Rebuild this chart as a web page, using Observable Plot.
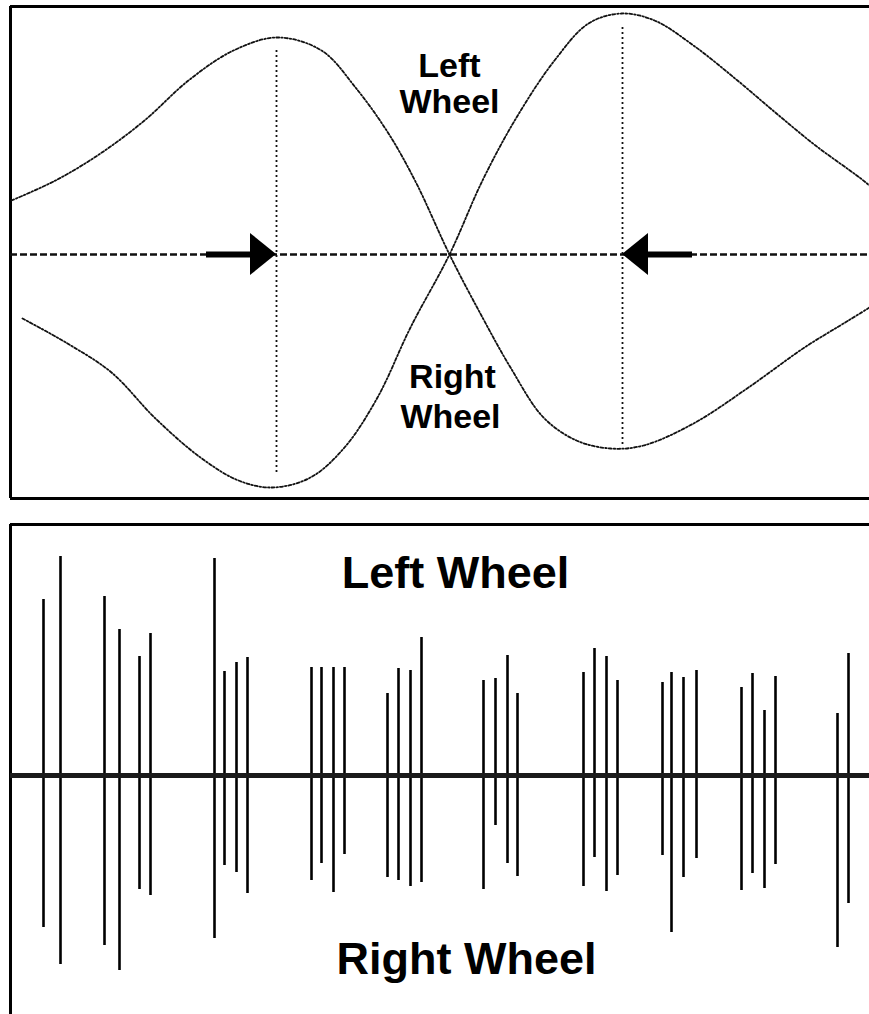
<!DOCTYPE html>
<html><head><meta charset="utf-8">
<script src="https://cdn.jsdelivr.net/npm/d3@7"></script>
<script src="https://cdn.jsdelivr.net/npm/@observablehq/plot@0.6"></script>
<style>
html,body{margin:0;padding:0;background:#fff;}
svg{display:block;}
</style></head><body><div id="top"></div><div id="bottom"></div>
<script>
// ---- Top panel: two wheel signals (position vs amplitude about the centre line)
const waveAPos = [1,45,90,134,178,223,267,311,345,378,406,439,472,500,533,566,600,633,683,738,794,838,859];
const waveAAmp = [54,74,101,134,174,204,217,204,167,121,71,0,-63,-113,-163,-186,-194,-191,-169,-133,-93,-66,-53];
const waveBPos = [12,57,101,145,190,228,262,300,334,367,400,439,472,506,544,578,611,644,683,727,766,805,849,859];
const waveBAmp = [-64,-89,-118,-164,-203,-226,-233,-223,-193,-143,-73,0,74,137,194,231,241,234,209,174,141,109,77,69];
// peak markers (vertical dotted guides) and arrow tips
const guidePos = [266, 612];
const guideTop = [204, 227];
const guideBottom = [-219, -193];
const arrowDir = [1, -1];

// ---- Bottom panel: spike train (position, upward amplitude, downward amplitude)
const spikePos  = [33,50,94,109,129,140,204,214,226,237,301,311,323,334,377,388,400,411,473,485,497,507,573,584,596,607,652,661,673,686,731,742,754,765,827,838];
const spikeUp   = [176,219,179,146,119,142,217,104,113,118,108,108,108,108,82,107,105,138,95,97,120,82,103,127,119,95,93,103,98,105,88,102,65,99,62,122];
const spikeDown = [152,189,170,195,114,120,163,90,97,118,105,88,117,79,102,105,111,107,114,50,88,101,111,82,116,100,80,157,102,83,115,98,113,89,172,128];

const topLabels = ["Left", "Wheel", "Right", "Wheel"];
const bottomLabels = ["Left Wheel", "Right Wheel"];

const waveA = waveAPos.map((p, i) => ({pos: p, amp: waveAAmp[i]}));
const waveB = waveBPos.map((p, i) => ({pos: p, amp: waveBAmp[i]}));
const guides = guidePos.map((p, i) => ({pos: p, top: guideTop[i], bottom: guideBottom[i], dir: arrowDir[i]}));
const spikes = spikePos.map((p, i) => ({pos: p, up: spikeUp[i], down: -spikeDown[i]}));

const HEAD_LEN = 26, HEAD_HALF = 21, SHAFT_LEN = 48;
const heads = [];
guides.forEach((g, i) => {
  heads.push({id: i, x: g.pos - g.dir * HEAD_LEN, y1: -HEAD_HALF, y2: HEAD_HALF});
  heads.push({id: i, x: g.pos, y1: 0, y2: 0});
});

const font = "Liberation Sans, Arial, Helvetica, sans-serif";

const topChart = Plot.plot({
  width: 869, height: 500,
  marginLeft: 10, marginRight: 0, marginTop: 6, marginBottom: 2,
  x: {domain: [0, 859], axis: null},
  y: {domain: [-244, 248], axis: null},
  style: {fontFamily: font, background: "#fff"},
  marks: [
    Plot.ruleX([0], {stroke: "#000", strokeWidth: 3}),
    Plot.ruleY([248, -244], {stroke: "#000", strokeWidth: 3}),
    Plot.ruleY([0], {stroke: "#111", strokeWidth: 2.5, strokeDasharray: "7,3"}),
    Plot.ruleX(guides, {x: "pos", y1: "top", y2: "bottom", stroke: "#111", strokeWidth: 1.8, strokeDasharray: "2,3"}),
    Plot.line(waveA, {x: "pos", y: "amp", curve: "catmull-rom", stroke: "#111", strokeWidth: 1.8, strokeDasharray: "3,2,1.5,2"}),
    Plot.line(waveB, {x: "pos", y: "amp", curve: "catmull-rom", stroke: "#111", strokeWidth: 1.8, strokeDasharray: "3,2,1.5,2"}),
    Plot.ruleY(guides, {y: () => 0, x1: d => d.pos - d.dir * (HEAD_LEN + SHAFT_LEN - 4), x2: d => d.pos - d.dir * (HEAD_LEN - 2), stroke: "#000", strokeWidth: 6}),
    Plot.area(heads, {x1: "x", y1: "y1", y2: "y2", z: "id", fill: "#000"}),
    Plot.text(topLabels, {
      x: [439, 439, 442, 440],
      y: [188, 152, -123, -163],
      text: d => d,
      fontSize: 34, fontWeight: "bold", fill: "#000", textAnchor: "middle"
    })
  ]
});

const bottomChart = Plot.plot({
  width: 869, height: 514,
  marginLeft: 10, marginRight: 0, marginTop: 24, marginBottom: 0,
  x: {domain: [0, 859], axis: null},
  y: {domain: [-239, 251], axis: null},
  style: {fontFamily: font, background: "#fff"},
  marks: [
    Plot.ruleX([0], {stroke: "#000", strokeWidth: 3}),
    Plot.ruleY([251], {stroke: "#000", strokeWidth: 3}),
    Plot.ruleX(spikes, {x: "pos", y1: "down", y2: "up", stroke: "#000", strokeWidth: 2.6}),
    Plot.ruleY([0], {stroke: "#1a1a1a", strokeWidth: 5}),
    Plot.text(bottomLabels, {
      x: [445, 456],
      y: [202, -184],
      text: d => d,
      fontSize: 45, fontWeight: "bold", fill: "#000", textAnchor: "middle"
    })
  ]
});

document.getElementById("top").appendChild(topChart);
document.getElementById("bottom").appendChild(bottomChart);
</script>
</body></html>
